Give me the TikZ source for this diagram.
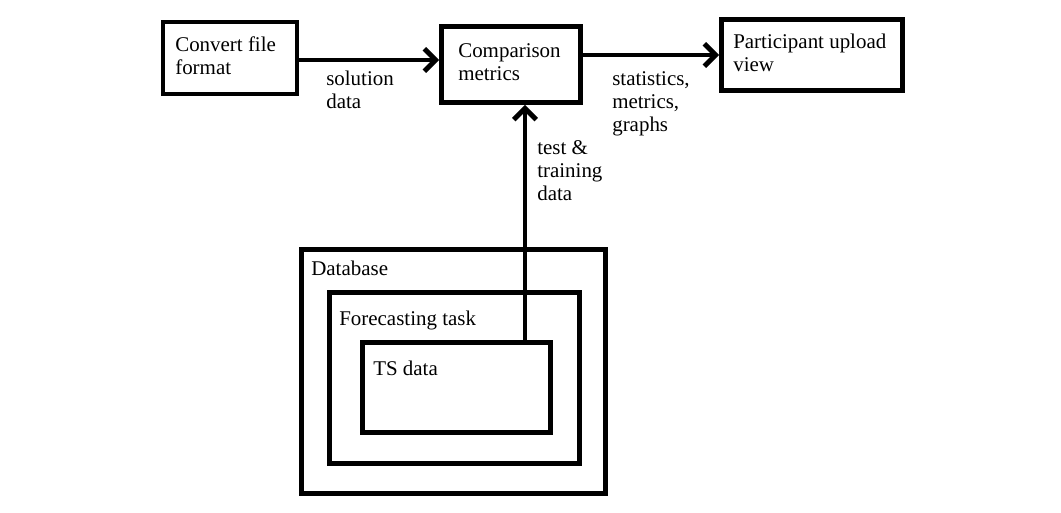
\documentclass[tikz,border=0pt]{standalone}
\usepackage{fontspec}
\setmainfont{Liberation Serif}
\usetikzlibrary{arrows.meta}
\tikzset{
  box/.style={draw,line width=3.5pt,inner sep=0pt},
  lbl/.style={anchor=north west,inner sep=0pt,align=left,font=\fontsize{14.9}{16.4}\selectfont},
  flow/.style={line width=3.5pt,-{Straight Barb[length=8pt,width=16pt]}}
}
\begin{document}
\begin{tikzpicture}
\useasboundingbox (0,0) rectangle (26.525,12.825);
% boxes
\path[draw] (5.75,11.375) node[box,minimum width=3.35cm,minimum height=1.8cm] (conv) {};
\path[draw] (12.775,11.2125) node[box,minimum width=3.475cm,minimum height=1.9cm] (comp) {};
\path[draw] (20.3,11.45) node[box,minimum width=4.525cm,minimum height=1.775cm] (part) {};
\path[draw] (11.3375,3.5375) node[box,minimum width=7.6cm,minimum height=6.1cm] (db) {};
\path[draw] (11.3625,3.375) node[box,minimum width=6.25cm,minimum height=4.275cm] (task) {};
\path[draw] (11.4125,3.1375) node[box,minimum width=4.7cm,minimum height=2.25cm] (ts) {};
% texts
\node[lbl] (convtxt) at (4.375,11.925) {Convert file\\format};
\node[lbl] (comptxt) at (11.45,11.75) {Comparison\\metrics};
\node[lbl] (parttxt) at (18.325,11.975) {Participant upload\\view};
\node[lbl] (dbtxt) at (7.775,6.3) {Database};
\node[lbl] (tasktxt) at (8.475,5.05) {Forecasting task};
\node[lbl] (tstxt) at (9.325,3.8) {TS data};
% arrows
\coordinate (upx) at (13.125,0);
\coordinate (midy) at (0,11.325);
\draw[flow] (conv.east |- midy) -- (comp.west |- midy);
\draw[flow] (comp.east |- part.west) -- (part.west);
\draw[flow] (ts.north -| upx) -- (comp.south -| upx);
\node[lbl] (soltxt) at (8.15,11.05) {solution\\data};
\node[lbl] (stattxt) at (15.3,11.05) {statistics,\\metrics,\\graphs};
\node[lbl] (testtxt) at (13.425,9.325) {test \&\\training\\data};
%\node[lbl] at (0,0) {};
\end{tikzpicture}
\end{document}
